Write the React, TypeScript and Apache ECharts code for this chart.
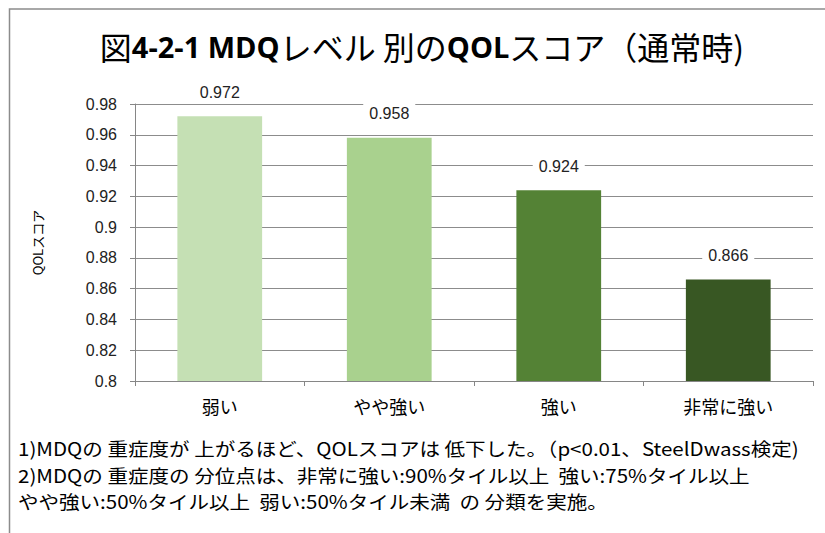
import React, { useEffect, useRef } from "react";
import * as echarts from "echarts";

const categories = ["弱い", "やや強い", "強い", "非常に強い"];
const scores = [0.972, 0.958, 0.924, 0.866];
const barColors = ["#c5e0b4", "#a9d18e", "#548235", "#385723"];
const yMin = 0.8;
const yMax = 0.98;
const yStep = 0.02;
const yName = "QOLスコア";
const notes = [
  "1)MDQの 重症度が 上がるほど、QOLスコアは 低下した。（p<0.01、SteelDwass検定)",
  "2)MDQの 重症度の 分位点は、非常に強い:90%タイル以上  強い:75%タイル以上",
  "やや強い:50%タイル以上  弱い:50%タイル未満  の 分類を実施。",
];

const JP = '"Noto Sans CJK JP", sans-serif';
const SANS = '"Liberation Sans", Arial, sans-serif';

export default function App() {
  const ref = useRef<HTMLDivElement>(null);
  useEffect(() => {
    if (!ref.current) return;
    const chart = echarts.init(ref.current, null, { renderer: "svg" });
    chart.setOption({
      animation: false,
      backgroundColor: "#ffffff",
      grid: { left: 135, right: 12, top: 104, bottom: 152 },
      xAxis: {
        type: "category",
        data: categories,
        axisLine: { lineStyle: { color: "#868686", width: 1 } },
        axisTick: { show: true, length: 5, alignWithLabel: false, lineStyle: { color: "#868686" } },
        axisLabel: { color: "#000", fontFamily: JP, fontSize: 18, margin: 16 },
      },
      yAxis: {
        type: "value",
        min: yMin,
        max: yMax,
        interval: yStep,
        name: yName,
        nameLocation: "middle",
        nameRotate: 90,
        nameGap: 91,
        nameTextStyle: { color: "#000", fontFamily: JP, fontSize: 13 },
        axisLine: { show: true, lineStyle: { color: "#868686", width: 1 } },
        axisTick: { show: true, length: 5, inside: false, lineStyle: { color: "#868686" } },
        axisLabel: {
          color: "#222",
          fontFamily: SANS,
          fontSize: 16,
          margin: 18,
          formatter: (v: number) => String(parseFloat(v.toFixed(2))),
        },
        splitLine: { lineStyle: { color: "#8c8c8c", width: 1 } },
      },
      series: [
        {
          type: "bar",
          barWidth: "50%",
          data: scores.map((v, i) => ({ value: v, itemStyle: { color: barColors[i] } })),
          label: {
            show: true,
            position: "top",
            distance: 14,
            color: "#222",
            fontFamily: SANS,
            fontSize: 16,
            backgroundColor: "#ffffff",
            padding: [2, 6],
            formatter: (p: any) => p.value.toFixed(3),
          },
        },
      ],
      graphic: [
        {
          type: "rect",
          shape: { x: 9.5, y: 9, width: 900, height: 600 },
          style: { fill: "none", stroke: "#8c8c8c", lineWidth: 1.5 },
          silent: true,
        },
        {
          type: "text",
          x: 422,
          y: 46,
          style: {
            text: "{n|図}{b|4-2-1 MDQ}{n|レベル 別の}{b|QOL}{n|スコア（通常時)}",
            align: "center",
            verticalAlign: "middle",
            rich: {
              n: { fontFamily: JP, fontSize: 32, fontWeight: "normal", fill: "#000" },
              b: { fontFamily: '"Open Sans", sans-serif', fontSize: 29, fontWeight: "bold", fill: "#000" },
            },
          },
        },
        ...notes.map((t, i) => ({
          type: "text",
          x: 18,
          y: 448 + i * 26.5,
          scaleX: 1.11,
          style: {
            text: t,
            fontFamily: JP,
            fontSize: 18.5,
            lineHeight: 22,
            fill: "#000",
            align: "left",
            verticalAlign: "middle",
          },
        })),
      ],
    });
    return () => chart.dispose();
  }, []);
  return (
    <div
      ref={ref}
      style={{ position: "fixed", left: 0, top: 0, width: 825, height: 533 }}
    />
  );
}
